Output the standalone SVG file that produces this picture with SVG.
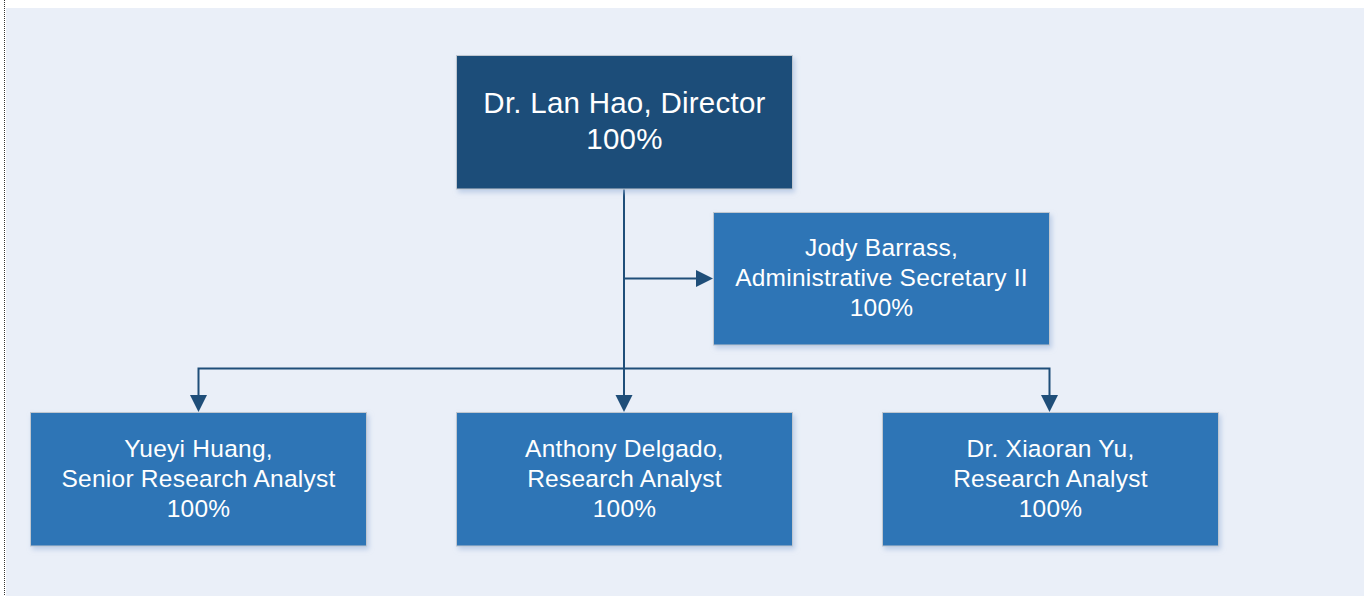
<svg xmlns="http://www.w3.org/2000/svg" width="1364" height="596" viewBox="0 0 1364 596">
  <defs>
    <style>
      .box { stroke: #C0C7D0; stroke-width: 1; filter: url(#shadow); }
      .head { fill: #1F4E79; }
      .staff { fill: #2E75B6; }
      .txt { font-family: "Liberation Sans", Arial, sans-serif; fill: #FFFFFF; text-anchor: middle; letter-spacing: 0.25px; }
      .big { font-size: 29.5px; }
      .small { font-size: 24.5px; }
      .conn { fill: none; stroke: #1F4E79; stroke-width: 2; }
    </style>
    <filter id="shadow" x="-10%" y="-10%" width="125%" height="130%">
      <feDropShadow dx="2" dy="3" stdDeviation="2.5" flood-color="#9FB8DD" flood-opacity="0.6"/>
    </filter>
  </defs>

  <!-- page -->
  <rect x="0" y="0" width="1364" height="596" fill="#FFFFFF"/>
  <rect x="6" y="8" width="1358" height="588" fill="#EAEFF8"/>
  <line x1="4.5" y1="0" x2="4.5" y2="596" stroke="#333333" stroke-width="1" stroke-dasharray="1,1"/>

  <!-- connectors -->
  <g id="connectors">
    <path class="conn" d="M624,189 L624,396"/>
    <path class="conn" d="M624,278.5 L697,278.5"/>
    <path class="conn" d="M198.5,396 L198.5,368.5 L1049.5,368.5 L1049.5,396"/>
    <polygon points="615.5,395 632.5,395 624,412" fill="#1F4E79"/>
    <polygon points="190,395 207,395 198.5,412" fill="#1F4E79"/>
    <polygon points="1041,395 1058,395 1049.5,412" fill="#1F4E79"/>
    <polygon points="696,270 696,287 713,278.5" fill="#1F4E79"/>
  </g>

  <!-- director -->
  <g id="director">
    <rect class="box head" x="456.5" y="55.5" width="336" height="133.5"/>
    <text class="txt big" x="624.5" y="113">Dr. Lan Hao, Director</text>
    <text class="txt big" x="624.5" y="149">100%</text>
  </g>

  <!-- administrative secretary -->
  <g id="secretary">
    <rect class="box staff" x="713.5" y="212.5" width="336" height="132.5"/>
    <text class="txt small" x="881.5" y="256">Jody Barrass,</text>
    <text class="txt small" x="881.5" y="286">Administrative Secretary II</text>
    <text class="txt small" x="881.5" y="316">100%</text>
  </g>

  <!-- analysts -->
  <g id="analyst-huang">
    <rect class="box staff" x="30.5" y="412.5" width="336" height="133.5"/>
    <text class="txt small" x="198.5" y="457">Yueyi Huang,</text>
    <text class="txt small" x="198.5" y="487">Senior Research Analyst</text>
    <text class="txt small" x="198.5" y="516.5">100%</text>
  </g>

  <g id="analyst-delgado">
    <rect class="box staff" x="456.5" y="412.5" width="336" height="133.5"/>
    <text class="txt small" x="624.5" y="457">Anthony Delgado,</text>
    <text class="txt small" x="624.5" y="487">Research Analyst</text>
    <text class="txt small" x="624.5" y="516.5">100%</text>
  </g>

  <g id="analyst-yu">
    <rect class="box staff" x="882.5" y="412.5" width="336" height="133.5"/>
    <text class="txt small" x="1050.5" y="457">Dr. Xiaoran Yu,</text>
    <text class="txt small" x="1050.5" y="487">Research Analyst</text>
    <text class="txt small" x="1050.5" y="516.5">100%</text>
  </g>
</svg>
